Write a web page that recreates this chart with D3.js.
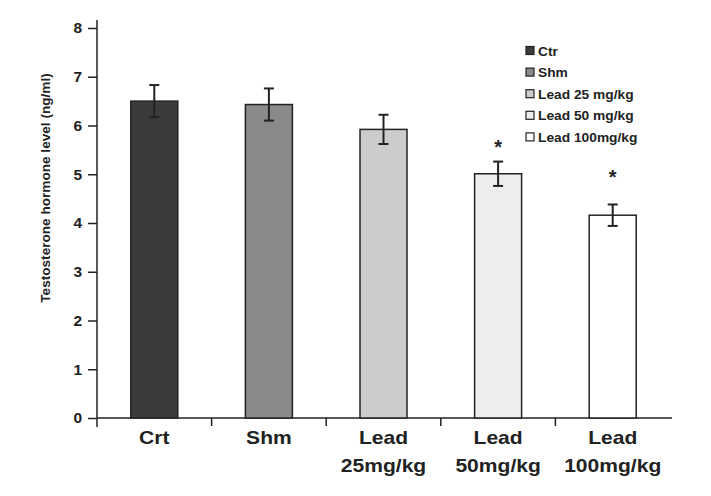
<!DOCTYPE html>
<html><head><meta charset="utf-8">
<script src="https://cdn.jsdelivr.net/npm/d3@7"></script>
<style>body{margin:0;background:#fff}svg{display:block}text{font-family:"Liberation Sans",Arial,sans-serif;font-weight:bold;fill:#222}</style>
</head><body>
<script>
const categories = ["Crt","Shm","Lead 25mg/kg","Lead 50mg/kg","Lead 100mg/kg"];
const catLines = [["Crt"],["Shm"],["Lead","25mg/kg"],["Lead","50mg/kg"],["Lead","100mg/kg"]];
const legendLabels = ["Ctr","Shm","Lead 25 mg/kg","Lead 50 mg/kg","Lead 100mg/kg"];
const means = [6.50, 6.43, 5.92, 5.01, 4.16];
const errors = [0.33, 0.33, 0.30, 0.25, 0.22];
const asteriskAt = [null, null, null, 5.60, 4.98];
const yTicks = [0,1,2,3,4,5,6,7,8];
const colors = ["#3b3b3b","#8a8a8d","#cbcccd","#eceeed","#ffffff"];

const W=711,H=496;
const svg=d3.select("body").append("svg").attr("width",W).attr("height",H);
const x0=97, x1=670, yBase=418, yTop=28;
const x=d3.scaleBand().domain(categories).range([x0,x1]).paddingInner(0).paddingOuter(0);
const y=d3.scaleLinear().domain([0,8]).range([yBase,yTop]);
const bw=47;
const ink="#222";

// y axis
const ya=svg.append("g").attr("transform",`translate(${x0},0)`)
  .call(d3.axisLeft(y).tickValues(yTicks).tickSize(9).tickPadding(6).tickFormat(d3.format("d")));
ya.select(".domain").remove();
ya.selectAll("line").attr("stroke",ink).attr("stroke-width",1.5);
ya.selectAll("text").style("font-size","15.5px").attr("fill",ink);
svg.append("line").attr("x1",x0).attr("x2",x0).attr("y1",20).attr("y2",yBase+9).attr("stroke",ink).attr("stroke-width",1.5);

// x axis
svg.append("line").attr("x1",x0).attr("x2",672).attr("y1",yBase).attr("y2",yBase).attr("stroke",ink).attr("stroke-width",1.5);
svg.selectAll(".xt").data(categories.slice(1)).enter().append("line")
  .attr("x1",d=>x(d)).attr("x2",d=>x(d)).attr("y1",yBase).attr("y2",yBase+8).attr("stroke",ink).attr("stroke-width",1.5);

// bars
svg.selectAll(".bar").data(categories).enter().append("rect")
  .attr("x",d=>x(d)+x.bandwidth()/2-bw/2).attr("width",bw)
  .attr("y",(d,i)=>y(means[i])).attr("height",(d,i)=>yBase-y(means[i]))
  .attr("fill",(d,i)=>colors[i]).attr("stroke",ink).attr("stroke-width",1.5);

// error bars
categories.forEach((c,i)=>{
  const cx=x(c)+x.bandwidth()/2;
  const g=svg.append("g").attr("stroke",ink).attr("stroke-width",2);
  g.append("line").attr("x1",cx).attr("x2",cx).attr("y1",y(means[i]+errors[i])).attr("y2",y(means[i]-errors[i]));
  g.append("line").attr("x1",cx-5).attr("x2",cx+5).attr("y1",y(means[i]+errors[i])).attr("y2",y(means[i]+errors[i]));
  g.append("line").attr("x1",cx-5).attr("x2",cx+5).attr("y1",y(means[i]-errors[i])).attr("y2",y(means[i]-errors[i]));
  if(asteriskAt[i]!=null) svg.append("text").attr("x",cx).attr("y",y(asteriskAt[i])+9)
    .attr("text-anchor","middle").style("font-size","20px").text("*");
  catLines[i].forEach((t,k)=>{
    svg.append("text").attr("transform",`translate(${cx},${443.5+k*28.5}) scale(1.17,1)`)
      .attr("text-anchor","middle").style("font-size","18px").text(t);
  });
});

// y title
svg.append("text").attr("transform","translate(50,188) rotate(-90)").attr("text-anchor","middle")
  .style("font-size","13.6px").text("Testosterone hormone level (ng/ml)");

// legend
legendLabels.forEach((l,i)=>{
  const ly=51+i*21.6;
  svg.append("rect").attr("x",526).attr("y",ly-4.5).attr("width",8).attr("height",8)
    .attr("fill",colors[i]).attr("stroke",ink).attr("stroke-width",1.2);
  svg.append("text").attr("transform",`translate(538,${ly+4.5}) scale(1.06,1)`).style("font-size","13px").text(l);
});
</script>
</body></html>
